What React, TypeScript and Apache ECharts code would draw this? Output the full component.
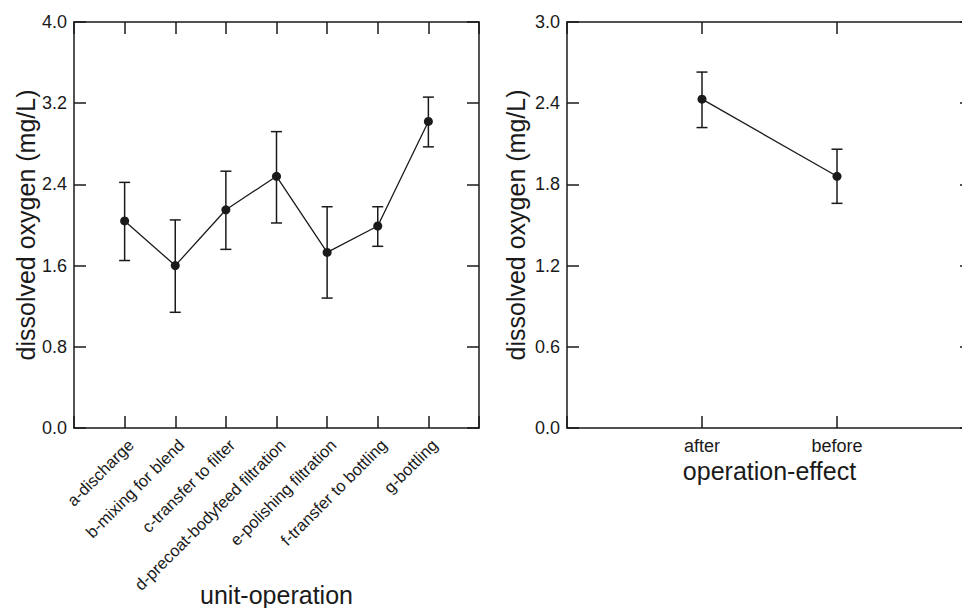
import React, { useEffect, useRef } from "react";
import * as echarts from "echarts";

const unitOps = [
  "a-discharge",
  "b-mixing for blend",
  "c-transfer to filter",
  "d-precoat-bodyfeed filtration",
  "e-polishing filtration",
  "f-transfer to bottling",
  "g-bottling",
];
const unitMeans = [2.04, 1.6, 2.15, 2.48, 1.73, 1.99, 3.02];
const unitLower = [1.65, 1.14, 1.76, 2.02, 1.28, 1.79, 2.77];
const unitUpper = [2.42, 2.05, 2.53, 2.92, 2.18, 2.18, 3.26];

const effects = ["after", "before"];
const effMeans = [2.43, 1.86];
const effLower = [2.22, 1.66];
const effUpper = [2.63, 2.06];

const leftYTicks = { min: 0, max: 4, interval: 0.8 };
const rightYTicks = { min: 0, max: 3, interval: 0.6 };

const FONT = "'Liberation Sans', Arial, Helvetica, sans-serif";
const INK = "#1a1a1a";

function errorRender(params: any, api: any) {
  const x = api.value(0);
  const lo = api.coord([x, api.value(1)]);
  const hi = api.coord([x, api.value(2)]);
  const hw = 5.5;
  const style = { stroke: INK, lineWidth: 1.5 };
  return {
    type: "group",
    children: [
      { type: "line", shape: { x1: hi[0], y1: hi[1], x2: lo[0], y2: lo[1] }, style },
      { type: "line", shape: { x1: hi[0] - hw, y1: hi[1], x2: hi[0] + hw, y2: hi[1] }, style },
      { type: "line", shape: { x1: lo[0] - hw, y1: lo[1], x2: lo[0] + hw, y2: lo[1] }, style },
    ],
  };
}

export default function App() {
  const ref = useRef<HTMLDivElement>(null);
  useEffect(() => {
    document.body.style.margin = "0";
    if (!ref.current) return;
    const chart = echarts.init(ref.current, null, { renderer: "svg" });

    const axisLine = { show: true, onZero: false, lineStyle: { color: INK, width: 1.5 } };
    const tickInside = { show: true, inside: true, length: 12, lineStyle: { color: INK, width: 1.5 } };
    const nameStyle = { fontFamily: FONT, fontSize: 25, color: INK };

    const xBottom = (gridIndex: number, max: number, names: string[], extra: any) => ({
      type: "value",
      gridIndex,
      position: "bottom",
      min: 0,
      max,
      interval: 1,
      axisLine,
      axisTick: tickInside,
      splitLine: { show: false },
      nameLocation: "middle",
      nameMoveOverlap: false,
      nameTextStyle: nameStyle,
      axisLabel: {
        fontFamily: FONT,
        color: INK,
        formatter: (v: number) => names[v - 1] ?? "",
        ...extra.axisLabel,
      },
      name: extra.name,
      nameGap: extra.nameGap,
    });
    const xTop = (gridIndex: number, max: number) => ({
      type: "value",
      gridIndex,
      position: "top",
      min: 0,
      max,
      interval: 1,
      axisLine,
      axisTick: tickInside,
      axisLabel: { show: false },
      splitLine: { show: false },
    });
    const yLeft = (gridIndex: number, t: any, gap: number) => ({
      type: "value",
      gridIndex,
      position: "left",
      min: t.min,
      max: t.max,
      interval: t.interval,
      axisLine,
      axisTick: tickInside,
      splitLine: { show: false },
      axisLabel: {
        fontFamily: FONT,
        fontSize: 18,
        color: INK,
        margin: 7,
        formatter: (v: number) => v.toFixed(1),
      },
      name: "dissolved oxygen (mg/L)",
      nameLocation: "middle",
      nameMoveOverlap: false,
      nameGap: gap,
      nameTextStyle: nameStyle,
    });
    const yRight = (gridIndex: number, t: any) => ({
      type: "value",
      gridIndex,
      position: "right",
      min: t.min,
      max: t.max,
      interval: t.interval,
      axisLine,
      axisTick: tickInside,
      axisLabel: { show: false },
      splitLine: { show: false },
    });

    const leftLine = unitMeans.map((m, i) => [i + 1, m]);
    const leftErr = unitMeans.map((_, i) => [i + 1, unitLower[i], unitUpper[i]]);
    const rightLine = effMeans.map((m, i) => [i + 1, m]);
    const rightErr = effMeans.map((_, i) => [i + 1, effLower[i], effUpper[i]]);

    chart.setOption({
      animation: false,
      backgroundColor: "#ffffff",
      grid: [
        { left: 74, top: 22, width: 405, height: 406, outerBoundsMode: "none", containLabel: false },
        { left: 567, top: 22, width: 405, height: 406, outerBoundsMode: "none", containLabel: false },
      ],
      xAxis: [
        xBottom(0, 8, unitOps, {
          axisLabel: { rotate: 45, fontSize: 16.5, margin: 8, verticalAlign: "top" },
          name: "unit-operation",
          nameGap: 154,
        }),
        xTop(0, 8),
        xBottom(1, 3, effects, {
          axisLabel: { rotate: 0, fontSize: 18, margin: 9 },
          name: "operation-effect",
          nameGap: 30,
        }),
        xTop(1, 3),
      ],
      yAxis: [
        yLeft(0, leftYTicks, 36),
        yRight(0, leftYTicks),
        yLeft(1, rightYTicks, 39),
        yRight(1, rightYTicks),
      ],
      series: [
        {
          type: "custom",
          xAxisIndex: 0,
          yAxisIndex: 0,
          renderItem: errorRender,
          encode: { x: 0, y: [1, 2] },
          data: leftErr,
          z: 2,
        },
        {
          type: "line",
          xAxisIndex: 0,
          yAxisIndex: 0,
          data: leftLine,
          symbol: "circle",
          symbolSize: 9,
          itemStyle: { color: INK },
          lineStyle: { color: INK, width: 1.3 },
          z: 3,
        },
        {
          type: "custom",
          xAxisIndex: 2,
          yAxisIndex: 2,
          renderItem: errorRender,
          encode: { x: 0, y: [1, 2] },
          data: rightErr,
          z: 2,
        },
        {
          type: "line",
          xAxisIndex: 2,
          yAxisIndex: 2,
          data: rightLine,
          symbol: "circle",
          symbolSize: 9,
          itemStyle: { color: INK },
          lineStyle: { color: INK, width: 1.3 },
          z: 3,
        },
      ],
    });
    return () => chart.dispose();
  }, []);
  return <div ref={ref} style={{ width: 962, height: 608 }} />;
}
